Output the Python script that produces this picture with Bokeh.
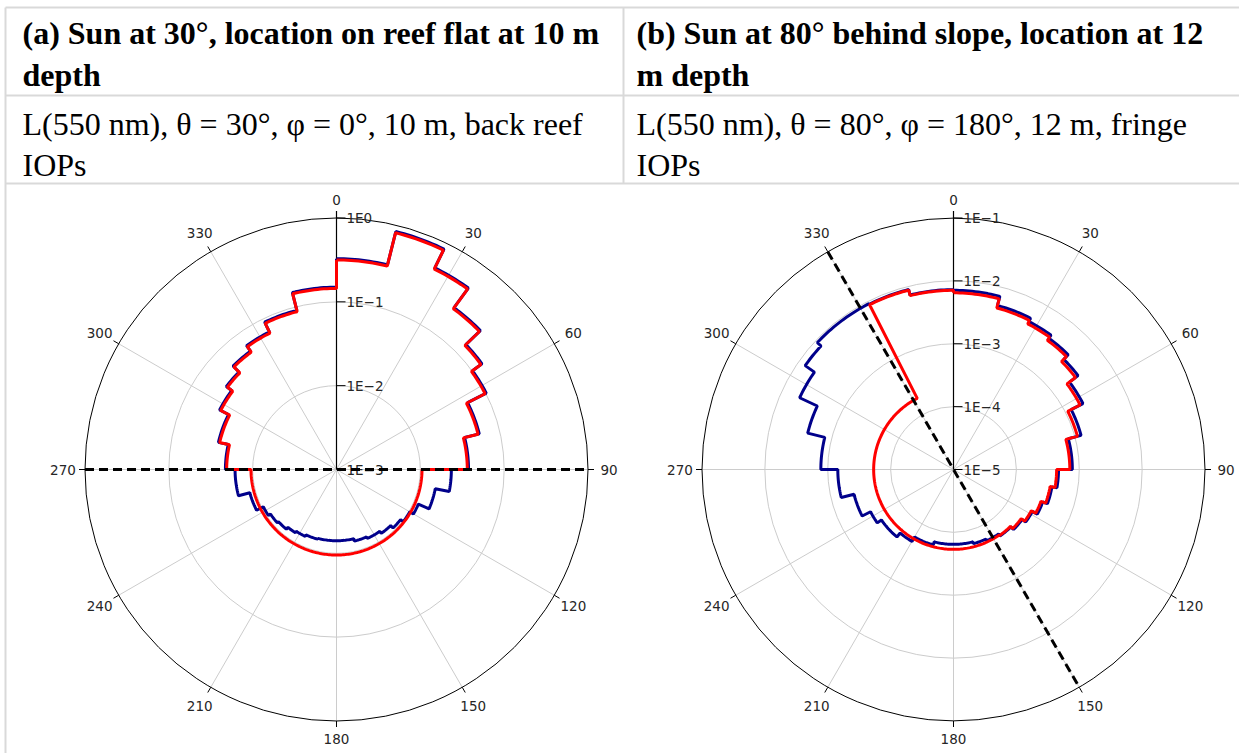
import numpy as np
from bokeh.plotting import figure
from bokeh.models import Range1d
from bokeh.core.properties import value
from bokeh.embed import file_html
from bokeh.resources import INLINE

# ---------------- data ----------------
header_a = ["(a) Sun at 30°, location on reef flat at 10 m", "depth"]
header_b = ["(b) Sun at 80° behind slope, location at 12", "m depth"]
caption_a = ["L(550 nm), θ = 30°, φ = 0°, 10 m, back reef", "IOPs"]
caption_b = ["L(550 nm), θ = 80°, φ = 180°, 12 m, fringe", "IOPs"]

angle_ticks = [0, 30, 60, 90, 120, 150, 180, 210, 240, 270, 300, 330]

# panel (a): log10 radiance per azimuth bin (bin edges in degrees, clockwise from top)
a_decades = [-3, -2, -1, 0]
a_red_edges = [0, 14, 26, 36, 46, 54, 63, 76, 90, 270, 283, 297, 307, 315, 324, 334, 346, 360]
a_red_log = [-0.50, -0.09, -0.34, -0.63, -0.87, -1.01, -1.26, -1.44,
             -1.98,
             -1.69, -1.57, -1.45, -1.37, -1.27, -1.19, -1.06, -0.84]
a_blue_edges = [0, 14, 26, 36, 46, 54, 63, 76, 90,
                101, 113, 120, 128, 136, 145, 156, 166, 195, 205, 213, 220, 228, 236, 243, 255, 270,
                283, 297, 307, 315, 324, 334, 346, 360]
a_blue_log = [-0.485, -0.075, -0.325, -0.615, -0.855, -0.995, -1.245, -1.425,
              -1.63, -1.80, -1.94, -1.99, -2.03, -2.07, -2.10, -2.12, -2.15, -2.14, -2.12,
              -2.10, -2.07, -2.05, -2.02, -1.93, -1.79,
              -1.675, -1.555, -1.435, -1.355, -1.255, -1.175, -1.045, -0.825]
a_horizon = [270, 90]

# panel (b)
b_decades = [-5, -4, -3, -2, -1]
b_red_edges = [0, 15, 27, 36, 45, 53, 63, 75, 90, 100, 110, 118, 126, 135, 145, 333, 346, 360]
b_red_log = [-2.19, -2.34, -2.40, -2.46, -2.57, -2.74, -2.96, -3.15,
             -3.36, -3.44, -3.52, -3.60, -3.67, -3.72, -3.73, -2.06, -2.15]
b_blue_edges = [0, 15, 27, 36, 45, 53, 63, 75, 90,
                100, 110, 118, 126, 135, 145, 155, 165, 195, 210, 220, 235, 243, 256, 270,
                284, 295, 305, 313, 333, 346, 360]
b_blue_log = [-2.15, -2.30, -2.36, -2.42, -2.52, -2.69, -2.90, -3.11,
              -3.33, -3.41, -3.49, -3.58, -3.65, -3.71, -3.75, -3.78, -3.81, -3.76, -3.68,
              -3.60, -3.52, -3.37, -3.16,
              -2.89, -2.61, -2.30, -2.12, -2.04, -2.05, -2.14]
b_horizon = [330, 150]

# ---------------- figure ----------------
W, H = 1239, 753
p = figure(width=W, height=H, x_range=Range1d(0, W), y_range=Range1d(H, 0),
           output_backend="svg", toolbar_location=None, min_border=0,
           x_axis_type=None, y_axis_type=None)
p.grid.visible = False
p.outline_line_color = None
p.background_fill_color = "white"
p.border_fill_color = "white"

# table borders
BORDER = "#d9d9d9"
p.segment(x0=[5, 5, 5, 5, 623], y0=[7, 95, 183, 7, 7],
          x1=[W, W, W, 5, 623], y1=[7, 95, 183, H, 183],
          line_color=BORDER, line_width=2)

SERIF = value("Liberation Serif")
for col_x, hdr, cap in [(22, header_a, caption_a), (636, header_b, caption_b)]:
    p.text(x=[col_x, col_x], y=[32, 74], text=hdr, text_font=SERIF,
           text_font_style="bold", text_font_size="32px", text_color="black",
           text_align="left", text_baseline="alphabetic")
    p.text(x=[col_x, col_x], y=[123, 164], text=cap, text_font=SERIF,
           text_font_size="32px", text_color="black",
           text_align="left", text_baseline="alphabetic")


def step_curve(edges, logv, rmin):
    xs, ys = [], []
    for a0, a1, v in zip(edges[:-1], edges[1:], logv):
        rho = v - rmin
        ang = np.radians(np.linspace(a0, a1, max(2, int(a1 - a0) + 1)))
        xs.extend((rho * np.sin(ang)).tolist())
        ys.extend((rho * np.cos(ang)).tolist())
    xs.append(xs[0])
    ys.append(ys[0])
    return xs, ys


def minus(d):
    return "1E" + (str(d) if d >= 0 else "\u2212" + str(-d))


R_PX = 251.5
label_pad = [18, 22, 22, 21, 22, 22, 18, 22, 22, 22, 22, 22]
SANS = value("DejaVu Sans")
FS = "13.5px"
panels = [
    dict(n="a", cx=336, cy=469, dec=a_decades, red=(a_red_edges, a_red_log),
         blue=(a_blue_edges, a_blue_log), hz=a_horizon),
    dict(n="b", cx=953, cy=469, dec=b_decades, red=(b_red_edges, b_red_log),
         blue=(b_blue_edges, b_blue_log), hz=b_horizon),
]

for pn in panels:
    rmin, rmax = pn["dec"][0], pn["dec"][-1]
    Rd = rmax - rmin
    k = R_PX / Rd
    xn, yn = "x" + pn["n"], "y" + pn["n"]
    p.extra_x_ranges[xn] = Range1d((0 - pn["cx"]) / k, (W - pn["cx"]) / k)
    p.extra_y_ranges[yn] = Range1d((pn["cy"] - H) / k, pn["cy"] / k)
    kw = dict(x_range_name=xn, y_range_name=yn)

    th = np.radians(np.array(angle_ticks, dtype=float))
    # spokes
    p.segment(x0=[0] * len(th), y0=[0] * len(th), x1=(Rd * np.sin(th)).tolist(),
              y1=(Rd * np.cos(th)).tolist(), line_color="#cccccc", line_width=1, **kw)
    # grid circles
    inner = [d - rmin for d in pn["dec"][1:-1]]
    p.circle(x=[0] * len(inner), y=[0] * len(inner), radius=inner, fill_color=None,
             line_color="#cccccc", line_width=1, **kw)
    p.circle(x=[0], y=[0], radius=[Rd], fill_color=None, line_color="black",
             line_width=1, **kw)
    # angular ticks and labels
    t_len = 6 / k
    p.segment(x0=(Rd * np.sin(th)).tolist(), y0=(Rd * np.cos(th)).tolist(),
              x1=((Rd + t_len) * np.sin(th)).tolist(), y1=((Rd + t_len) * np.cos(th)).tolist(),
              line_color="black", line_width=1, **kw)
    lr = np.array([Rd + pad / k for pad in label_pad])
    p.text(x=(lr * np.sin(th)).tolist(), y=(lr * np.cos(th)).tolist(),
           text=[str(a) for a in angle_ticks], text_font=SANS, text_font_size=FS,
           text_color="#262626", text_align="center", text_baseline="middle", **kw)
    # radial axis
    p.segment(x0=[0], y0=[0], x1=[0], y1=[Rd + 7 / k], line_color="black", line_width=1.2, **kw)
    rr = [d - rmin for d in pn["dec"]]
    p.segment(x0=[0] * len(rr), y0=rr, x1=[9 / k] * len(rr), y1=rr,
              line_color="black", line_width=1, **kw)
    p.text(x=[10 / k] * len(rr), y=rr, text=[minus(d) for d in pn["dec"]],
           text_font=SANS, text_font_size=FS, text_color="#262626",
           text_align="left", text_baseline="middle", **kw)
    # curves
    bx, by = step_curve(pn["blue"][0], pn["blue"][1], rmin)
    p.line(bx, by, line_color="#00008b", line_width=3, **kw)
    rx, ry = step_curve(pn["red"][0], pn["red"][1], rmin)
    p.line(rx, ry, line_color="#ff0000", line_width=3, **kw)
    # horizon dashed line
    hz = np.radians(np.array(pn["hz"], dtype=float))
    p.line((Rd * np.sin(hz)).tolist(), (Rd * np.cos(hz)).tolist(), line_color="black",
           line_width=3, line_dash="9 5", **kw)

open("out.html", "w").write(file_html(p, INLINE))
